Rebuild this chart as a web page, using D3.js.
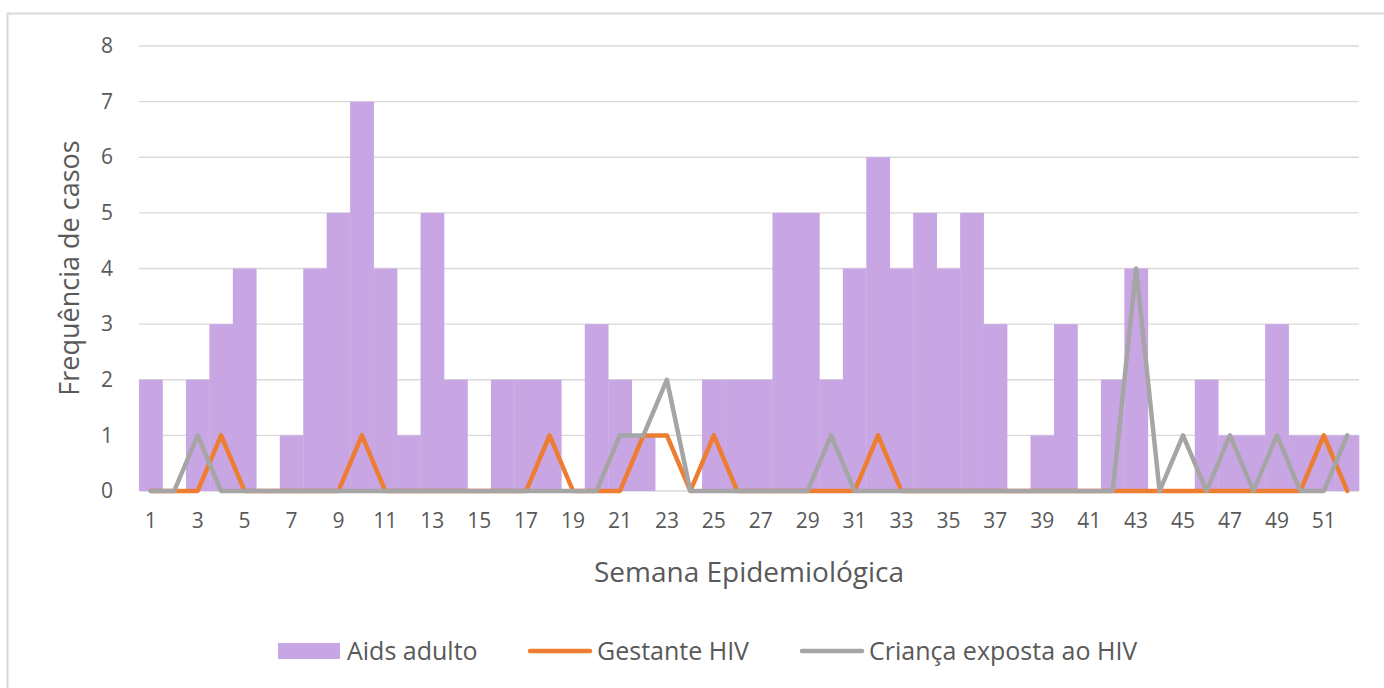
<!DOCTYPE html>
<html>
<head>
<meta charset="utf-8">
<script src="https://cdn.jsdelivr.net/npm/d3@7"></script>
<style>
  body { margin: 0; background: #fff; }
  text { font-family: "Open Sans", Lato, sans-serif; fill: #595959; }
</style>
</head>
<body>
<div id="chart"></div>
<script>
// weeks 1..52
var weeks = d3.range(1, 53);

var aidsAdulto = [2,0,2,3,4,0,1,4,5,7,4,1,5,2,0,2,2,2,0,3,2,1,0,0,2,2,2,5,5,2,
                  4,6,4,5,4,5,3,0,1,3,0,2,4,0,0,2,1,1,3,1,1,1];
var gestanteHIV = [0,0,0,1,0,0,0,0,0,1,0,0,0,0,0,0,0,1,0,0,0,1,1,0,1,0,0,0,0,0,
                   0,1,0,0,0,0,0,0,0,0,0,0,0,0,0,0,0,0,0,0,1,0];
var criancaHIV = [0,0,1,0,0,0,0,0,0,0,0,0,0,0,0,0,0,0,0,0,1,1,2,0,0,0,0,0,0,1,
                  0,0,0,0,0,0,0,0,0,0,0,0,4,0,1,0,1,0,1,0,0,1];

var yTicks = d3.range(0, 9);
var seriesNames = ["Aids adulto", "Gestante HIV", "Criança exposta ao HIV"];
var colors = ["#c8a5e3", "#ed7d31", "#a5a5a5"];

var W = 1384, H = 688;
var margin = {top: 46, right: 25, bottom: 197, left: 139},
    width = W - margin.left - margin.right,
    height = H - margin.top - margin.bottom;

var svg = d3.select("#chart").append("svg")
    .attr("width", W)
    .attr("height", H);

// outer frame
svg.append("rect")
    .attr("x", 7.5).attr("y", 13.5)
    .attr("width", W).attr("height", H)
    .attr("fill", "none")
    .attr("stroke", "#d9d9d9")
    .attr("stroke-width", 2);

var g = svg.append("g")
    .attr("transform", "translate(" + margin.left + "," + margin.top + ")");

var x = d3.scaleBand()
    .domain(weeks)
    .range([0, width])
    .padding(0);

var y = d3.scaleLinear()
    .domain([0, 8])
    .range([height, 0]);

// gridlines
g.append("g")
  .selectAll("line")
  .data(yTicks)
  .enter().append("line")
    .attr("x1", 0).attr("x2", width)
    .attr("y1", function(d) { return y(d); })
    .attr("y2", function(d) { return y(d); })
    .attr("stroke", "#d9d9d9")
    .attr("stroke-width", 1.3);

// Y axis labels
var yAxis = g.append("g")
    .call(d3.axisLeft(y).tickValues(yTicks).tickSize(0).tickPadding(26));
yAxis.select(".domain").remove();
yAxis.selectAll("text")
    .attr("font-size", 21)
    .attr("font-family", "'Open Sans', sans-serif")
    .style("fill", "#595959");

// X axis labels (odd weeks)
var xAxis = g.append("g")
    .attr("transform", "translate(0," + height + ")")
    .call(d3.axisBottom(x)
      .tickValues(weeks.filter(function(d) { return d % 2 === 1; }))
      .tickSize(0).tickPadding(22));
xAxis.select(".domain").remove();
xAxis.selectAll("text")
    .attr("font-size", 21)
    .attr("font-family", "'Open Sans', sans-serif")
    .style("fill", "#595959");

// bars
g.append("g")
  .selectAll("rect")
  .data(aidsAdulto)
  .enter().append("rect")
    .attr("x", function(d, i) { return x(weeks[i]); })
    .attr("y", function(d) { return y(d); })
    .attr("width", x.bandwidth() + 0.3)
    .attr("height", function(d) { return height - y(d); })
    .attr("fill", colors[0]);

// lines
var line = d3.line()
    .x(function(d, i) { return x(weeks[i]) + x.bandwidth() / 2; })
    .y(function(d) { return y(d); });

[gestanteHIV, criancaHIV].forEach(function(s, k) {
  g.append("path")
    .datum(s)
    .attr("fill", "none")
    .attr("stroke", colors[k + 1])
    .attr("stroke-width", 4.5)
    .attr("stroke-linejoin", "round")
    .attr("stroke-linecap", "round")
    .attr("d", line);
});

// axis titles
svg.append("text")
    .attr("x", margin.left + width / 2)
    .attr("y", 572)
    .attr("dy", "0.35em")
    .attr("text-anchor", "middle")
    .attr("font-size", 28)
    .text("Semana Epidemiológica");

svg.append("text")
    .attr("transform", "translate(70," + 268 + ") rotate(-90)")
    .attr("dy", "0.35em")
    .attr("text-anchor", "middle")
    .attr("font-size", 27)
    .text("Frequência de casos");

// legend
var legend = svg.append("g").attr("transform", "translate(0,651)");
var lx = [278, 528, 800];
legend.append("rect")
    .attr("x", lx[0]).attr("y", -8)
    .attr("width", 62).attr("height", 16)
    .attr("fill", colors[0]);
[1, 2].forEach(function(k) {
  legend.append("line")
    .attr("x1", lx[k] + 2).attr("x2", lx[k] + 62)
    .attr("y1", 0).attr("y2", 0)
    .attr("stroke", colors[k])
    .attr("stroke-width", 4.5)
    .attr("stroke-linecap", "round");
});
seriesNames.forEach(function(n, k) {
  legend.append("text")
    .attr("x", lx[k] + 69)
    .attr("y", 0)
    .attr("dy", "0.35em")
    .attr("font-size", 25)
    .text(n);
});
</script>
</body>
</html>
